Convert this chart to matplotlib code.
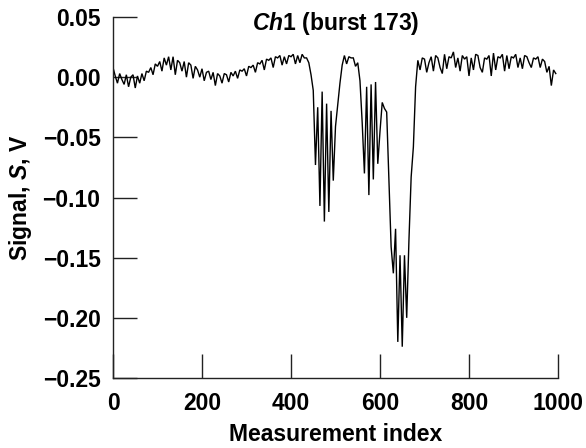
import numpy as np
import matplotlib
matplotlib.use("Agg")
import matplotlib.pyplot as plt

# ---- data (sampled every 5 measurement indices) ----
step = 5
baseline_start = [0.008, 0.001, -0.005, 0.003, -0.002, -0.006, 0.002, -0.008, 0.000, 0.002, -0.009, 0.001, -0.005]
rise_1 = [0.003, -0.003, 0.005, 0.004, 0.008, 0.002, 0.011, 0.009, 0.013, 0.005, 0.016, 0.010, 0.017, 0.006]
hump_1 = [0.017, 0.002, 0.014, 0.012, 0.005, 0.013, 0.000, 0.012, 0.010, -0.001]
trough_a = [0.009, 0.006, 0.000, 0.007, -0.003, 0.004, 0.005, -0.002, 0.004, -0.007, 0.003, 0.001]
trough_b = [-0.005, 0.003, 0.002, -0.004, 0.004, 0.001, 0.005, -0.001, 0.006, 0.005]
rise_2 = [0.007, 0.001, 0.009, 0.008, 0.010, 0.004, 0.012, 0.011, 0.014, 0.006, 0.015, 0.014]
plateau_1 = [0.016, 0.008, 0.017, 0.016, 0.018, 0.010, 0.017, 0.011, 0.018, 0.017, 0.019, 0.011, 0.018, 0.012, 0.019, 0.016, 0.016]
dip_1 = [0.012, 0.002, -0.011, -0.073, -0.025, -0.107, -0.012, -0.120, -0.022, -0.112, -0.028, -0.086, -0.041, -0.023, -0.005, 0.010]
plateau_2 = [0.018, 0.011, 0.017, 0.016, 0.016, 0.009, 0.012]
dip_2 = [-0.003, -0.038, -0.080, -0.008, -0.098, -0.006, -0.085, -0.004, -0.072, -0.045, -0.021, -0.026, -0.029]
dip_3 = [-0.086, -0.141, -0.163, -0.126, -0.220, -0.148, -0.224, -0.148, -0.200, -0.136, -0.083, -0.058, -0.008]
plateau_3 = [0.014, 0.006, 0.016, 0.015, 0.004, 0.012, 0.017, 0.005, 0.018, 0.016,
             0.008, 0.003, 0.019, 0.007, 0.017, 0.016, 0.021, 0.008, 0.016, 0.005,
             0.018, 0.015, 0.017, 0.001, 0.016, 0.006, 0.019, 0.018, 0.008, 0.004,
             0.016, 0.015, 0.018, 0.001, 0.020, 0.006, 0.017, 0.016, 0.019, 0.005,
             0.018, 0.007, 0.017, 0.016, 0.019, 0.008, 0.016, 0.007, 0.018, 0.017,
             0.012, 0.008, 0.016, 0.015, 0.017, 0.008, 0.015, 0.013]
tail = [0.004, 0.009, -0.007, 0.006, 0.003]

signal = np.concatenate([baseline_start, rise_1, hump_1, trough_a, trough_b, rise_2,
                         plateau_1, dip_1, plateau_2, dip_2, dip_3, plateau_3, tail])
index = np.arange(len(signal)) * step

x_ticks = [0, 200, 400, 600, 800, 1000]
y_ticks = [-0.25, -0.20, -0.15, -0.10, -0.05, 0.00, 0.05]
y_tick_labels = ["\u22120.25", "\u22120.20", "\u22120.15", "\u22120.10", "\u22120.05", "0.00", "0.05"]

# ---- style ----
plt.rcParams['font.family'] = ['Liberation Sans', 'DejaVu Sans']
plt.rcParams['font.weight'] = 'bold'
plt.rcParams['mathtext.fontset'] = 'custom'
plt.rcParams['mathtext.rm'] = 'Liberation Sans:bold'
plt.rcParams['mathtext.it'] = 'Liberation Sans:italic:bold'
fs = 16.5

W, H = 586, 448
fig = plt.figure(figsize=(W / 100, H / 100), dpi=100)
L, R, T, B = 113, 558, 17, 378
ax = fig.add_axes([L / W, 1 - B / H, (R - L) / W, (B - T) / H])

ax.plot(index, signal, color='black', lw=1.0, solid_joinstyle='miter')

ax.set_xlim(0, 1000)
ax.set_ylim(-0.25, 0.05)
ax.set_xticks(x_ticks)
ax.set_xticklabels([str(v) for v in x_ticks])
ax.set_yticks(y_ticks)
ax.set_yticklabels(y_tick_labels)

for s in ['top', 'right']:
    ax.spines[s].set_visible(False)
for s in ['left', 'bottom']:
    ax.spines[s].set_linewidth(1.0)
    ax.spines[s].set_color('#222222')

ax.tick_params(axis='both', direction='in', length=17.5, width=1.0, color='#222222',
               labelsize=fs)
ax.tick_params(axis='x', pad=10)
ax.tick_params(axis='y', pad=9)

ax.set_xlabel('Measurement index', fontsize=fs, fontweight='bold')
ax.xaxis.label.set_va('baseline')
ax.xaxis.set_label_coords(0.5, -(441 - B) / (B - T))

ax.set_ylabel('Signal, $S$, V', fontsize=fs, fontweight='bold')
ax.yaxis.label.set_va('center')
ax.yaxis.set_label_coords(-(L - 20) / (R - L), 0.5)

ax.text(0.5, (B - 30) / (B - T), r'$Ch$1 (burst 173)', transform=ax.transAxes,
        ha='center', va='baseline', fontsize=fs, fontweight='bold')

fig.savefig('out.png', dpi=100)
